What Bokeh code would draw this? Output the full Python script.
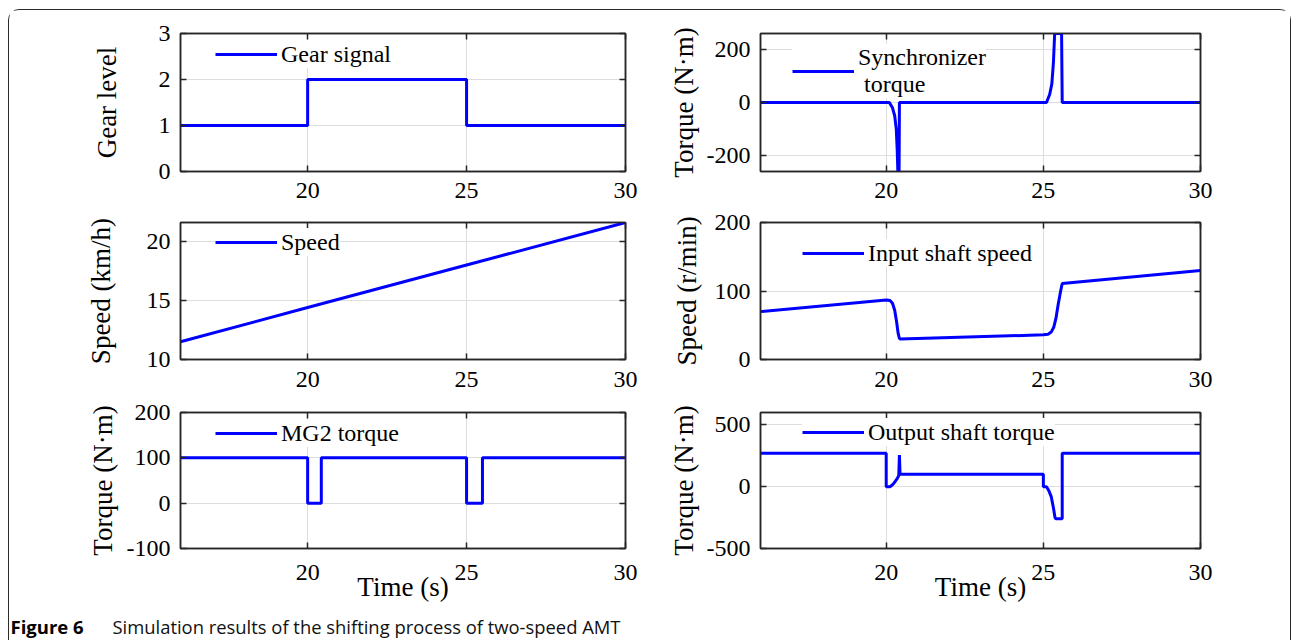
from bokeh.plotting import figure
from bokeh.layouts import column, row
from bokeh.models import (Range1d, FixedTicker, LinearAxis, Legend, LegendItem, Label)
from bokeh.embed import file_html
from bokeh.resources import INLINE

# ---------------- data ----------------
x_ticks = [20, 25, 30]

t_gear = [16, 20, 20, 25, 25, 30]
gear = [1, 1, 2, 2, 1, 1]

t_sync = [16, 20.1, 20.2, 20.27, 20.32, 20.35, 20.37, 20.41, 20.42,
          25.1, 25.2, 25.27, 25.32, 25.36, 25.58, 25.6, 30]
sync = [0, 0, -20, -50, -100, -180, -260, -260, 0,
        0, 30, 70, 150, 260, 260, 0, 0]

t_speed = [16, 20, 25, 30]
speed = [11.5, 14.4, 18.0, 21.6]

t_in = [16, 20.0, 20.12, 20.2, 20.27, 20.33, 20.38, 20.42, 20.45,
        25.0, 25.15, 25.25, 25.33, 25.4, 25.47, 25.55, 25.6, 30]
v_in = [70, 87, 86, 82, 72, 55, 38, 31, 30,
        36, 37, 40, 47, 60, 80, 100, 111, 130]

t_mg = [16, 20, 20, 20.43, 20.43, 25, 25, 25.5, 25.5, 30]
mg = [100, 100, 0, 0, 100, 100, 0, 0, 100, 100]

t_out = [16, 20, 20, 20.12, 20.2, 20.28, 20.35, 20.4, 20.42, 20.44, 20.45,
         25, 25, 25.1, 25.17, 25.25, 25.32, 25.37, 25.4, 25.6, 25.6, 30]
out = [270, 270, 0, 0, 15, 40, 65, 90, 255, 100, 100,
       100, 0, 0, -30, -80, -170, -250, -260, -260, 270, 270]

SERIF = "Liberation Serif"
BLUE = "#0000ff"
DARK = "#262626"

OX, OY = 9, 10  # content origin inside the outer frame


def make(t, y, yr, yticks, ylabel, lab_standoff, legend_label, leg_loc,
         width, bl, br, height, bt, bb, xstand, xlabel=None):
    p = figure(width=width, height=height, output_backend="svg",
               toolbar_location=None, x_range=Range1d(16, 30),
               y_range=Range1d(*yr), min_border_left=bl, min_border_right=br,
               min_border_top=bt, min_border_bottom=bb)
    p.background_fill_color = "white"
    p.border_fill_color = "white"
    p.outline_line_color = DARK
    p.outline_line_width = 1.5
    r = p.line(t, y, line_color=BLUE, line_width=3)
    p.xaxis.ticker = FixedTicker(ticks=x_ticks)
    p.yaxis.ticker = FixedTicker(ticks=yticks)
    p.yaxis.major_label_overrides = {v: str(v) for v in yticks if v < 0}
    for ax in (p.xaxis[0], p.yaxis[0]):
        ax.major_label_text_font = SERIF
        ax.major_label_text_font_size = "24px"
        ax.major_label_text_color = "black"
        ax.axis_line_color = DARK
        ax.axis_line_width = 1.5
        ax.major_tick_in = 6
        ax.major_tick_out = 0
        ax.major_tick_line_color = DARK
        ax.major_tick_line_width = 1.5
        ax.minor_tick_line_color = None
        ax.axis_label_text_font = SERIF
        ax.axis_label_text_font_size = "27px"
        ax.axis_label_text_font_style = "normal"
        ax.axis_label_text_color = "black"
    p.yaxis.major_label_standoff = 10
    p.xaxis.major_label_standoff = xstand
    p.yaxis.axis_label = ylabel
    p.yaxis.axis_label_standoff = lab_standoff
    if xlabel:
        p.xaxis.axis_label = xlabel
        p.xaxis.axis_label_standoff = -11
    # mirrored ticks on top and right (no labels)
    for loc, tk in (("right", yticks), ("above", x_ticks)):
        ax = LinearAxis(ticker=FixedTicker(ticks=tk))
        ax.major_label_text_font_size = "0px"
        ax.major_label_text_color = None
        ax.major_label_standoff = 0
        ax.axis_line_color = DARK
        ax.axis_line_width = 1.5
        ax.major_tick_in = 6
        ax.major_tick_out = 0
        ax.major_tick_line_color = DARK
        ax.major_tick_line_width = 1.5
        ax.minor_tick_line_color = None
        p.add_layout(ax, loc)
    p.grid.grid_line_color = "#dedede"
    p.grid.grid_line_width = 1
    leg = Legend(items=[LegendItem(label=legend_label, renderers=[r])],
                 location=leg_loc, label_text_font=SERIF,
                 label_text_font_size="24px", label_text_color="black",
                 glyph_width=62, glyph_height=28,
                 label_standoff=4, padding=0, margin=0, spacing=0,
                 border_line_color=None, background_fill_color="white",
                 background_fill_alpha=1.0)
    p.add_layout(leg)
    return p


# column geometry
W1_bl, W1_fr, W1_br = 180 - OX, 445, 40
W2_bl, W2_fr, W2_br = 95, 440, 90
W1 = W1_bl + W1_fr + W1_br
W2 = W2_bl + W2_fr + W2_br
R1 = (33 - OY, 138, 38)
R2 = (13, 137, 40)
R3 = (13, 136, 64)
H1, H2, H3 = sum(R1), sum(R2), sum(R3)

f1 = make(t_gear, gear, (0, 3), [0, 1, 2, 3], "Gear level", 34, "Gear signal",
          (35, 103), W1, W1_bl, W1_br, H1, R1[0], R1[2], 11)
f2 = make(t_sync, sync, (-260, 260), [-200, 0, 200], "Torque (N\u00b7m)", 5,
          "Synchronizer\n torque", (32, 73), W2, W2_bl, W2_br, H1, R1[0], R1[2], 11)
f3 = make(t_speed, speed, (10, 21.6), [10, 15, 20], "Speed (km/h)", 28, "Speed",
          (35, 103), W1, W1_bl, W1_br, H2, R2[0], R2[2], 12)
f4 = make(t_in, v_in, (0, 200), [0, 100, 200], "Speed (r/min)", 10,
          "Input shaft speed", (42, 92), W2, W2_bl, W2_br, H2, R2[0], R2[2], 12)
f5 = make(t_mg, mg, (-100, 200), [-100, 0, 100, 200], "Torque (N\u00b7m)", 6,
          "MG2 torque", (35, 101), W1, W1_bl, W1_br, H3, R3[0], R3[2], 16,
          xlabel="Time (s)")
f6 = make(t_out, out, (-500, 600), [-500, 0, 500], "Torque (N\u00b7m)", 5,
          "Output shaft torque", (42, 102), W2, W2_bl, W2_br, H3, R3[0], R3[2], 16,
          xlabel="Time (s)")

# caption strip
CAP_H = 40
cap_top = OY + H1 + H2 + H3
fc = figure(width=W1 + W2, height=CAP_H, output_backend="svg", toolbar_location=None,
            x_axis_type=None, y_axis_type=None, min_border=0,
            x_range=Range1d(0, 1), y_range=Range1d(0, 1))
fc.outline_line_color = None
fc.grid.visible = False
mid_y = cap_top + CAP_H - 626
fc.add_layout(Label(x=10 - OX, y=mid_y, x_units="screen", y_units="screen",
                    text="Figure 6", text_font="Open Sans", text_font_style="bold",
                    text_font_size="18.5px", text_color="black",
                    text_baseline="middle"))
fc.add_layout(Label(x=112 - OX, y=mid_y, x_units="screen", y_units="screen",
                    text="Simulation results of the shifting process of two-speed AMT",
                    text_font="Open Sans", text_font_size="18.4px", text_color="#111111",
                    text_baseline="middle"))

layout = column(row(f1, f2), row(f3, f4), row(f5, f6), fc,
                styles={"border": "1.5px solid #2b2b2b", "border-radius": "11px",
                        "margin-left": "8px", "margin-top": "9px"})

open("out.html", "w").write(file_html(layout, INLINE))
